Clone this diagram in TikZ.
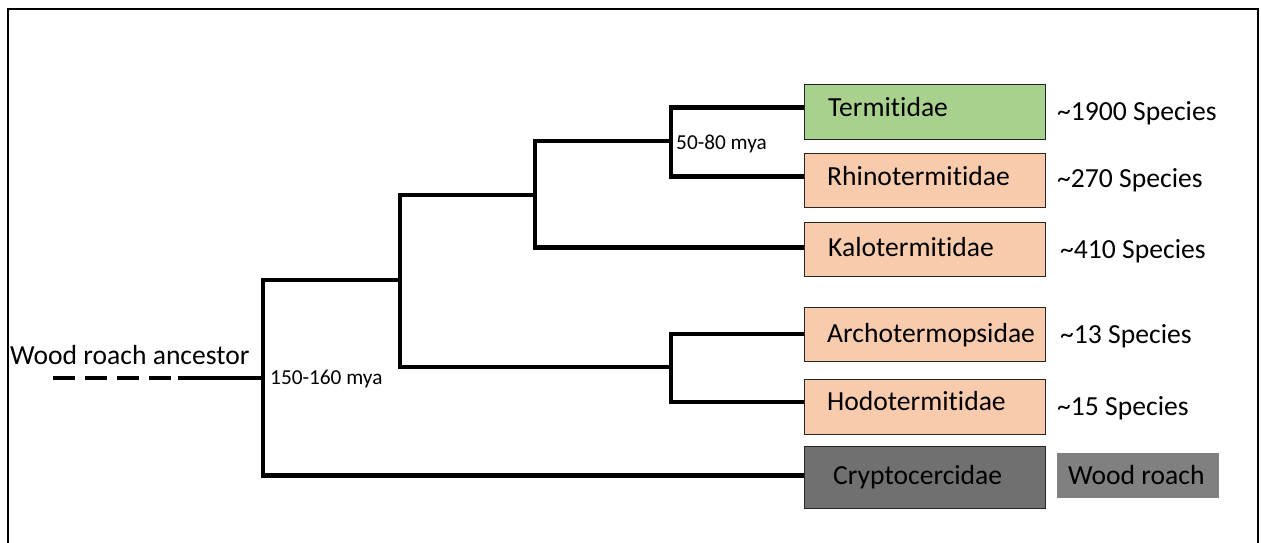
\documentclass[tikz,border=0pt]{standalone}
\usepackage{fontspec}
\setmainfont{Carlito}[Ligatures=NoCommon]
\begin{document}
\begin{tikzpicture}[x=1pt,y=-1pt,
  branch/.style={line width=4.2pt,line join=miter,line cap=butt},
  taxon/.style={draw=black!85,line width=1.3pt,minimum width=241pt,inner sep=0pt,anchor=north west},
  big/.style={font=\fontsize{27.6}{31}\selectfont,inner sep=0pt,anchor=west,text height=17.8pt,text depth=0pt},
  small/.style={font=\fontsize{21.3}{24}\selectfont,inner sep=0pt,anchor=west,text height=13.7pt,text depth=0pt}]
\definecolor{termgreen}{HTML}{A9D18E}
\definecolor{salmon}{HTML}{F8CBAD}
\definecolor{darkbox}{HTML}{707070}
\definecolor{roachgray}{HTML}{808080}
\useasboundingbox (0,0) rectangle (1261,542);
% frame
\draw[line width=2pt] (8,9) rectangle (1258,560);

% family boxes
\node[taxon,fill=termgreen,minimum height=55pt] (bterm) at (804,84) {};
\node[taxon,fill=salmon,minimum height=54pt] (brhino) at (804,153) {};
\node[taxon,fill=salmon,minimum height=54pt] (bkalo) at (804,222) {};
\node[taxon,fill=salmon,minimum height=54pt] (barch) at (804,307) {};
\node[taxon,fill=salmon,minimum height=55pt] (bhodo) at (804,379) {};
\node[taxon,fill=darkbox,minimum height=62pt] (bcrypto) at (804,446) {};
\node[fill=roachgray,minimum width=162pt,minimum height=45pt,inner sep=0pt,anchor=north west] (broach) at (1057,453) {};

% family names
\node[big] (lterm) at (828,107.5) {Termitidae};
\node[big] (lrhino) at (827,176.5) {Rhinotermitidae};
\node[big] (lkalo) at (828,247.5) {Kalotermitidae};
\node[big] (larch) at (827,333.7) {Archotermopsidae};
\node[big] (lhodo) at (827,402) {Hodotermitidae};
\node[big] (lcrypto) at (833,475.5) {Cryptocercidae};

% species counts
\node[big] (sterm) at (1057,112) {\char`\~1900 Species};
\node[big] (srhino) at (1057,179) {\char`\~270 Species};
\node[big] (skalo) at (1060,249.3) {\char`\~410 Species};
\node[big] (sarch) at (1060,335) {\char`\~13 Species};
\node[big] (shodo) at (1057,407) {\char`\~15 Species};
\node[big] (sroach) at (1068,475.3) {Wood roach};

% branching points
\coordinate (j0) at (263,378);
\coordinate (j1) at (400,280);
\coordinate (j2) at (535,195);
\coordinate (j3) at (671,141);
\coordinate (j4) at (671,367);
\coordinate (astart) at (53,378);
\coordinate (asolid) at (178,378);

% tree
\draw[branch] (bterm.west |- lterm) -| (j3) |- (brhino.west |- lrhino);
\draw[branch] (j3) -| (j2) |- (bkalo.west |- lkalo);
\draw[branch] (j2) -| (j1) |- (j4);
\draw[branch] (barch.west |- larch) -| (j4) |- (bhodo.west |- lhodo);
\draw[branch] (j1) -| (j0) |- (bcrypto.west |- lcrypto);
\draw[branch] (j0) -- (asolid);
\draw[branch,dash pattern=on 22pt off 10pt] (astart) -- (asolid);

% labels on the tree
\node[big] (anc) at (10,355.5) {Wood roach ancestor};
\node[small] (d1) at (270,378) {150-160 mya};
\node[small] (d2) at (676,142.5) {50-80 mya};
\end{tikzpicture}
\end{document}
